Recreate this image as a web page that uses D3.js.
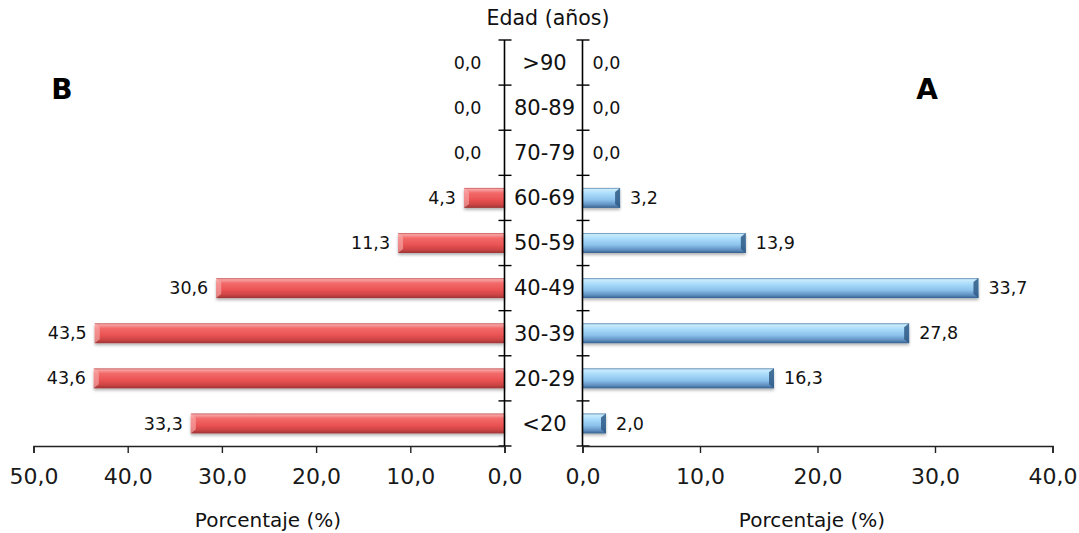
<!DOCTYPE html>
<html>
<head>
<meta charset="utf-8">
<script src="https://cdn.jsdelivr.net/npm/d3@7"></script>
<style>
  html, body { margin: 0; padding: 0; background: #fff; }
  svg { display: block; font-family: "DejaVu Sans", Verdana, sans-serif; }
</style>
</head>
<body>
<svg id="chart" width="1079" height="533"></svg>
<script>
// ---- data ----
const categories = [">90", "80-89", "70-79", "60-69", "50-59", "40-49", "30-39", "20-29", "<20"];
const valuesB = [0.0, 0.0, 0.0, 4.3, 11.3, 30.6, 43.5, 43.6, 33.3];
const valuesA = [0.0, 0.0, 0.0, 3.2, 13.9, 33.7, 27.8, 16.3, 2.0];
const ticksB = [0, 10, 20, 30, 40, 50];
const ticksA = [0, 10, 20, 30, 40];
const titleY = "Edad (años)";
const titleX = "Porcentaje (%)";
const panelB = "B";
const panelA = "A";

const fmt = v => v.toFixed(1).replace(".", ",");

const svg = d3.select("#chart");
const defs = svg.append("defs");

// gradients
const gRed = defs.append("linearGradient").attr("id", "gRed").attr("x1", 0).attr("y1", 0).attr("x2", 0).attr("y2", 1);
[[0, "#c85a5a"], [0.08, "#f7a3a3"], [0.25, "#f36a6a"], [0.6, "#ea5252"], [0.85, "#c94343"], [1, "#9b3434"]]
  .forEach(([o, c]) => gRed.append("stop").attr("offset", o).attr("stop-color", c));
const gBlue = defs.append("linearGradient").attr("id", "gBlue").attr("x1", 0).attr("y1", 0).attr("x2", 0).attr("y2", 1);
[[0, "#5a85b0"], [0.08, "#c9ecfd"], [0.3, "#a9dbfa"], [0.6, "#8cc2ec"], [0.85, "#5f8fc0"], [1, "#35608e"]]
  .forEach(([o, c]) => gBlue.append("stop").attr("offset", o).attr("stop-color", c));
const shadow = defs.append("filter").attr("id", "shadow").attr("x", "-5%").attr("y", "-30%").attr("width", "110%").attr("height", "170%");
shadow.append("feDropShadow").attr("dx", 0).attr("dy", 2).attr("stdDeviation", 1.5).attr("flood-color", "#000").attr("flood-opacity", 0.3);

// scales
const y = d3.scaleBand().domain(categories).range([40, 446]).paddingInner(0).paddingOuter(0);
const barH = 20;
const xB = d3.scaleLinear().domain([0, 50]).range([504.5, 33.5]);
const xA = d3.scaleLinear().domain([0, 40]).range([582.5, 1052.5]);

// bars B (left)
const gb = svg.append("g");
categories.forEach((c, i) => {
  const v = valuesB[i];
  if (v <= 0) return;
  const x0 = xB(v), x1 = xB(0);
  const yc = y(c) + y.bandwidth() / 2;
  gb.append("rect").attr("x", x0).attr("y", yc - barH / 2).attr("width", x1 - x0).attr("height", barH)
    .attr("fill", "url(#gRed)").attr("filter", "url(#shadow)");
  gb.append("path")
    .attr("d", `M${x0},${yc - barH / 2} L${x0 + 5},${yc - barH / 2 + 4} L${x0 + 5},${yc + barH / 2 - 4} L${x0},${yc + barH / 2} Z`)
    .attr("fill", "#f8b0b0").attr("opacity", 0.6);
});

// bars A (right)
const ga = svg.append("g");
categories.forEach((c, i) => {
  const v = valuesA[i];
  if (v <= 0) return;
  const x0 = xA(0), x1 = xA(v);
  const yc = y(c) + y.bandwidth() / 2;
  ga.append("rect").attr("x", x0).attr("y", yc - barH / 2).attr("width", x1 - x0).attr("height", barH)
    .attr("fill", "url(#gBlue)").attr("filter", "url(#shadow)");
  ga.append("path")
    .attr("d", `M${x1},${yc - barH / 2} L${x1 - 5},${yc - barH / 2 + 4} L${x1 - 5},${yc + barH / 2 - 4} L${x1},${yc + barH / 2} Z`)
    .attr("fill", "#2f5a86").attr("opacity", 0.85);
});

// vertical axes (cross ticks)
const axisCol = "#000";
const leftX = xB(0), rightX = xA(0);
const bounds = [...categories.map(c => y(c)), y.range()[1]];
[leftX, rightX].forEach(ax => {
  svg.append("line").attr("x1", ax).attr("x2", ax).attr("y1", 40).attr("y2", 446).attr("stroke", axisCol).attr("stroke-width", 1.6);
  svg.selectAll(null).data(bounds).enter().append("line")
    .attr("x1", ax - 6).attr("x2", ax + 7).attr("y1", d => d).attr("y2", d => d)
    .attr("stroke", axisCol).attr("stroke-width", 1.4);
});

// bottom axes
const axisB = d3.axisBottom(xB).tickValues(ticksB).tickSize(7).tickPadding(15).tickFormat(fmt);
const axisA = d3.axisBottom(xA).tickValues(ticksA).tickSize(7).tickPadding(15).tickFormat(fmt);
[axisB, axisA].forEach(ax => {
  const g = svg.append("g").attr("transform", "translate(0,446)").call(ax);
  g.select(".domain").attr("stroke", "#222").attr("stroke-width", 1.6);
  g.selectAll(".tick line").attr("stroke", "#222").attr("stroke-width", 1.4);
  g.selectAll(".tick text").attr("fill", "#1a1a1a").attr("font-size", 22).attr("font-family", "DejaVu Sans, sans-serif");
});

// category labels
svg.append("g").selectAll("text").data(categories).enter().append("text")
  .attr("x", (leftX + rightX) / 2 + 1).attr("y", c => y(c) + y.bandwidth() / 2)
  .attr("dy", "0.35em").attr("text-anchor", "middle").attr("font-size", 21).attr("fill", "#111")
  .text(c => c);

// value labels B
svg.append("g").selectAll("text").data(categories).enter().append("text")
  .attr("x", (c, i) => valuesB[i] > 0 ? xB(valuesB[i]) - 8 : xB(0) - 23)
  .attr("y", c => y(c) + y.bandwidth() / 2)
  .attr("dy", "0.35em").attr("text-anchor", "end").attr("font-size", 17.5).attr("fill", "#111")
  .text((c, i) => fmt(valuesB[i]));

// value labels A
svg.append("g").selectAll("text").data(categories).enter().append("text")
  .attr("x", (c, i) => valuesA[i] > 0 ? xA(valuesA[i]) + 10 : xA(0) + 10)
  .attr("y", c => y(c) + y.bandwidth() / 2)
  .attr("dy", "0.35em").attr("text-anchor", "start").attr("font-size", 17.5).attr("fill", "#111")
  .text((c, i) => fmt(valuesA[i]));

// titles
svg.append("text").attr("x", 548).attr("y", 25).attr("text-anchor", "middle").attr("font-size", 20.5).attr("fill", "#111").text(titleY);
svg.append("text").attr("x", 268).attr("y", 527).attr("text-anchor", "middle").attr("font-size", 20).attr("fill", "#111").text(titleX);
svg.append("text").attr("x", 812).attr("y", 527).attr("text-anchor", "middle").attr("font-size", 20).attr("fill", "#111").text(titleX);
svg.append("text").attr("x", 62).attr("y", 99).attr("text-anchor", "middle").attr("font-size", 28).attr("font-weight", "bold").attr("fill", "#000").text(panelB);
svg.append("text").attr("x", 927).attr("y", 99).attr("text-anchor", "middle").attr("font-size", 28).attr("font-weight", "bold").attr("fill", "#000").text(panelA);
</script>
</body>
</html>
